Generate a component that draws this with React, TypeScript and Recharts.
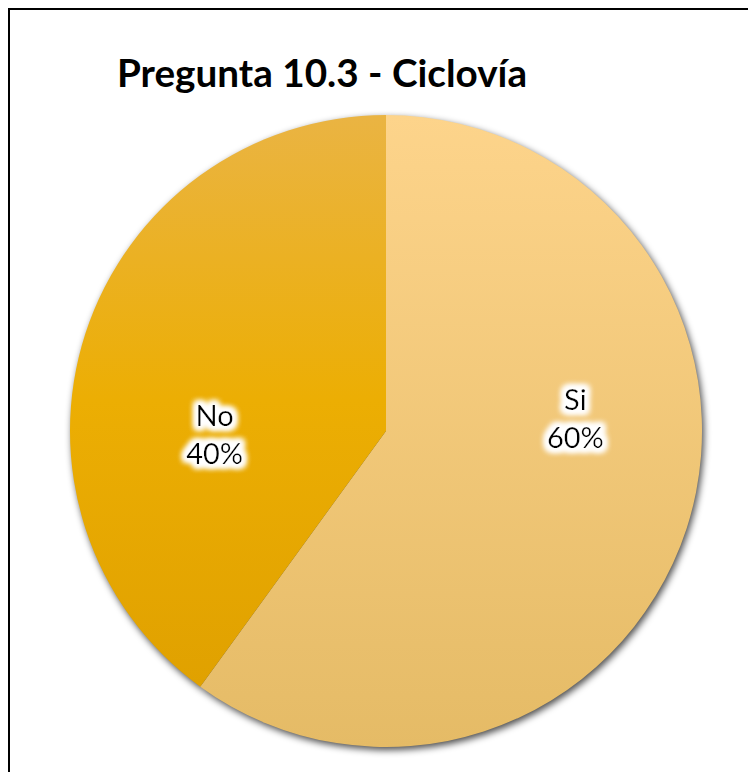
import { PieChart, Pie, Cell } from 'recharts';

const categories = ['Si', 'No'];
const values = [60, 40];
const percentLabels = ['60%', '40%'];
const chartTitle = 'Pregunta 10.3 - Ciclovía';

const data = categories.map((name, i) => ({ name, value: values[i], pct: percentLabels[i] }));

const RADIAN = Math.PI / 180;

function SliceLabel(props: any) {
  const { cx, cy, midAngle, outerRadius, index } = props;
  const item = data[index];
  const x = cx + outerRadius * 0.6 * Math.cos(-midAngle * RADIAN) + 9;
  const y = cy + (index === 0 ? -13 : 3);
  return (
    <text
      x={x}
      y={y}
      textAnchor="middle"
      fontFamily="Lato, 'Open Sans', sans-serif"
      fontSize={29}
      fill="#000"
      filter="url(#glow)"
    >
      <tspan x={x} dy={-8}>{item.name}</tspan>
      <tspan x={x} dy={38}>{item.pct}</tspan>
    </text>
  );
}

export default function App() {
  return (
    <div
      style={{
        position: 'fixed',
        left: 8,
        top: 8,
        width: 740,
        height: 764,
        borderLeft: '2px solid #000',
        borderTop: '2px solid #000',
        background: '#fff',
      }}
    >
      <PieChart width={738} height={762} margin={{ top: 0, right: 0, bottom: 0, left: 0 }}>
        <defs>
          <linearGradient id="gSi" x1="0" y1="0" x2="0" y2="1">
            <stop offset="0%" stopColor="#FDD48B" />
            <stop offset="100%" stopColor="#E5BB66" />
          </linearGradient>
          <linearGradient id="gNo" x1="0" y1="0" x2="0" y2="1">
            <stop offset="0%" stopColor="#EAB443" />
            <stop offset="50%" stopColor="#ECAE03" />
            <stop offset="100%" stopColor="#E0A100" />
          </linearGradient>
          <filter id="shadow" x="-10%" y="-10%" width="120%" height="120%">
            <feGaussianBlur stdDeviation="3.5" />
          </filter>
          <filter id="glow" x="-30%" y="-30%" width="160%" height="160%">
            <feMorphology in="SourceAlpha" operator="dilate" radius="2.5" result="d" />
            <feGaussianBlur in="d" stdDeviation="3" result="b" />
            <feFlood floodColor="#fff" />
            <feComposite in2="b" operator="in" result="w" />
            <feMerge>
              <feMergeNode in="w" />
              <feMergeNode in="w" />
              <feMergeNode in="w" />
              <feMergeNode in="SourceGraphic" />
            </feMerge>
          </filter>
        </defs>
        <text
          x={107}
          y={77}
          fontFamily="Lato, 'Open Sans', sans-serif"
          fontWeight={700}
          fontSize={38}
          fill="#000"
          textLength={410}
          lengthAdjust="spacingAndGlyphs"
        >
          {chartTitle}
        </text>
        <Pie
          data={data}
          dataKey="value"
          cx={378}
          cy={424}
          outerRadius={316}
          startAngle={90}
          endAngle={-270}
          stroke="none"
          fill="#000"
          fillOpacity={0.7}
          style={{ filter: 'url(#shadow)' }}
          isAnimationActive={false}
          legendType="none"
        />
        <Pie
          data={data}
          dataKey="value"
          nameKey="name"
          cx={376}
          cy={421}
          outerRadius={316}
          startAngle={90}
          endAngle={-270}
          stroke="none"
          label={SliceLabel}
          labelLine={false}
          isAnimationActive={false}
        >
          <Cell fill="url(#gSi)" />
          <Cell fill="url(#gNo)" />
        </Pie>
      </PieChart>
    </div>
  );
}
